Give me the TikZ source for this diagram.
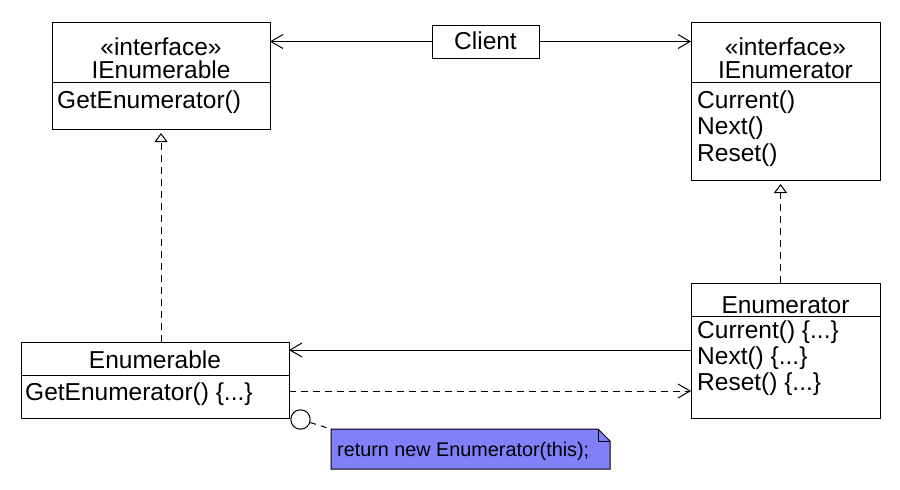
\documentclass[tikz,border=0pt]{standalone}
\usepackage{fontspec}
\setmainfont{Liberation Sans}
\usetikzlibrary{arrows.meta}
\definecolor{notefill}{RGB}{128,128,248}
\begin{document}
\begin{tikzpicture}[x=1pt,y=-1pt,
  cls/.style={draw, line width=1pt, inner sep=0pt, outer sep=0pt, anchor=north west},
  txt/.style={inner sep=0pt, font=\fontsize{24.5}{26}\selectfont},
  lt/.style={txt, anchor=base west},
  ct/.style={txt, anchor=base},
  conn/.style={line width=1pt},
  dsh/.style={line width=1pt, dash pattern=on 7pt off 5pt},
  opentip/.style={-{Straight Barb[length=12pt,width=14pt,line width=1pt]}},
  realize/.style={-{Triangle[open,fill=white,length=9pt,width=13pt,line width=1pt]}, shorten >=4pt},
  divider/.style={line width=1pt}
]
\useasboundingbox (0,0) rectangle (900,490);

% IEnumerable
\node[cls, minimum width=218pt, minimum height=107pt] (ienumerable) at (52,22) {};
\draw[divider] (ienumerable.west |- 0,82) -- (ienumerable.east |- 0,82);
\node[ct] (ie-st) at (161,55) {«interface»};
\node[ct] (ie-name) at (161,78) {IEnumerable};
\node[lt] (ie-m1) at (57,108) {GetEnumerator()};

% Client
\node[cls, minimum width=107pt, minimum height=33pt] (client) at (432,25) {};
\node[ct] (client-name) at (485.5,49) {Client};

% IEnumerator
\node[cls, minimum width=189pt, minimum height=158pt] (ienumerator) at (691,22) {};
\draw[divider] (ienumerator.west |- 0,82) -- (ienumerator.east |- 0,82);
\node[ct] (ir-st) at (785.5,55) {«interface»};
\node[ct] (ir-name) at (785.5,78) {IEnumerator};
\node[lt] (ir-m1) at (697,108) {Current()};
\node[lt] (ir-m2) at (697,134.5) {Next()};
\node[lt] (ir-m3) at (697,161) {Reset()};

% Enumerator
\node[cls, minimum width=189pt, minimum height=135pt] (enumerator) at (691,283) {};
\draw[divider] (enumerator.west |- 0,316) -- (enumerator.east |- 0,316);
\node[ct] (er-name) at (785.5,313) {Enumerator};
\node[lt] (er-m1) at (697,338) {Current() \{...\}};
\node[lt] (er-m2) at (697,364) {Next() \{...\}};
\node[lt] (er-m3) at (697,390.5) {Reset() \{...\}};

% Enumerable
\node[cls, minimum width=268pt, minimum height=76pt] (enumerable) at (21,342) {};
\draw[divider] (enumerable.west |- 0,375) -- (enumerable.east |- 0,375);
\node[ct] (eb-name) at (155,368) {Enumerable};
\node[lt] (eb-m1) at (25,400) {GetEnumerator() \{...\}};

% connectors
\draw[conn, opentip] (client.west) -- (client.west -| ienumerable.east);
\draw[conn, opentip] (client.east) -- (client.east -| ienumerator.west);
\draw[dsh, realize] (enumerable.north -| ienumerable.south) -- (ienumerable.south);
\draw[dsh, realize] ([xshift=-5pt]enumerator.north) -- ([xshift=-5pt]ienumerator.south);
\coordinate (assoc) at (0,350);
\coordinate (dep) at (0,391);
\draw[conn, opentip] (enumerator.west |- assoc) -- (enumerable.east |- assoc);
\draw[dsh, opentip] (enumerable.east |- dep) -- (enumerator.west |- dep);

% note
\node[draw, circle, fill=white, line width=1pt, minimum size=19.4pt, inner sep=0pt] (ring) at (300.5,419.5) {};
\node[inner sep=0pt, outer sep=0pt, minimum width=279pt, minimum height=40pt, anchor=north west] (note) at (331,429) {};
\draw[line width=1pt, fill=notefill] (note.north west) -- (598,429) -- (610,441) -- (note.south east) -- (note.south west) -- cycle;
\draw[line width=1pt] (598,429) -- (598,441) -- (610,441);
\node[anchor=base west, inner sep=0pt, font=\fontsize{19.8}{22}\selectfont] (notetext) at (337,456) {return new Enumerator(this);};
\draw[line width=1pt, dash pattern=on 6pt off 5pt] (ring) -- (note.north west);
\end{tikzpicture}
\end{document}
